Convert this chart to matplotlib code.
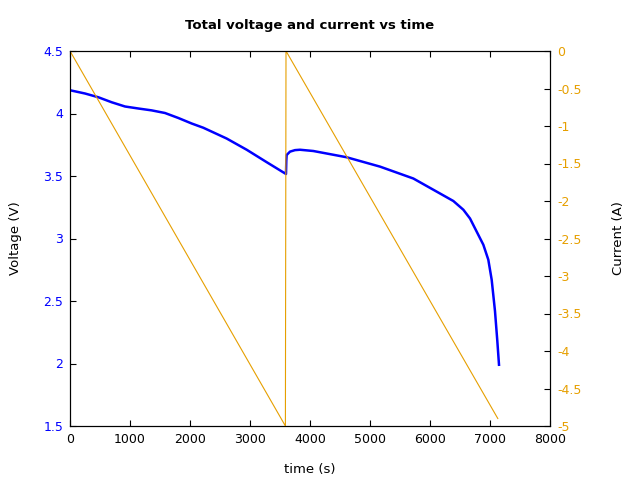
import matplotlib
matplotlib.use('Agg')
import matplotlib.pyplot as plt

# voltage trace
t_volt = [0, 250, 472, 694, 917, 1139, 1361, 1583, 1806, 2028, 2222,
          2610, 2945, 3280, 3600,
          3605, 3611, 3667, 3750, 3833, 4055, 4610, 5167, 5722,
          6167, 6389, 6556, 6667, 6778, 6889, 6972, 7028, 7083, 7122, 7150]
volt = [4.186, 4.16, 4.13, 4.09, 4.056, 4.04, 4.025, 4.004, 3.964, 3.92, 3.886,
        3.80, 3.71, 3.61, 3.516,
        3.62, 3.668, 3.695, 3.707, 3.71, 3.70, 3.65, 3.575, 3.48,
        3.36, 3.30, 3.23, 3.16, 3.055, 2.95, 2.83, 2.67, 2.42, 2.18, 1.99]

# current sawtooth
t_cur = [0, 3590, 3600, 7130]
cur = [0, -5, 0, -4.9]

blue = '#0000ff'
orange = '#e69f00'

fig = plt.figure(figsize=(6.4, 4.8), dpi=100)
ax = fig.add_axes([70/640, 1-426/480, 480/640, 375/480])
ax2 = ax.twinx()

ax.plot(t_volt, volt, color=blue, lw=1.8)
ax2.plot(t_cur, cur, color=orange, lw=0.8)

ax.set_xlim(0, 8000)
ax.set_ylim(1.5, 4.5)
ax2.set_ylim(-5, 0)
ax.set_xticks(range(0, 8001, 1000))
ax.set_yticks([1.5, 2, 2.5, 3, 3.5, 4, 4.5])
ax.set_yticklabels(['1.5', '2', '2.5', '3', '3.5', '4', '4.5'])
ax2.set_yticks([0, -0.5, -1, -1.5, -2, -2.5, -3, -3.5, -4, -4.5, -5])
ax2.set_yticklabels(['0', '-0.5', '-1', '-1.5', '-2', '-2.5', '-3', '-3.5',
                     '-4', '-4.5', '-5'])

ax.tick_params(axis='x', direction='in', top=True, length=4.5, labelsize=9, pad=5)
ax.tick_params(axis='y', direction='in', length=4.5, labelsize=9, labelcolor=blue, pad=5)
ax2.tick_params(axis='y', direction='in', length=4.5, labelsize=9, labelcolor=orange, pad=5)

ax.set_xlabel('time (s)', fontsize=9.5, labelpad=12)
ax.set_ylabel('Voltage (V)', fontsize=9.5, labelpad=15.5)
ax2.set_ylabel('Current (A)', fontsize=9.5, labelpad=22)
ax.set_title('Total voltage and current vs time', fontsize=9.5, fontweight='bold', pad=15.5)

fig.savefig('out.png', dpi=100)
